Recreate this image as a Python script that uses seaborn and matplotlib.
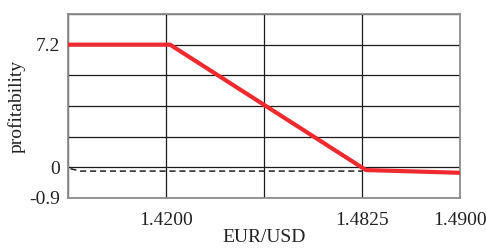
import numpy as np
import pandas as pd
import seaborn as sns
from matplotlib import pyplot as plt

# data
eurusd = [1.3800, 1.4213, 1.4828, 1.4900]
profit = [7.2, 7.2, -0.08, -0.16]
base_x = [1.3810, 1.3850, 1.4825]
base_y = [-0.04, -0.11, -0.11]

x_ticks = [1.3800, 1.4200, 1.45125, 1.4825, 1.4900]
x_labels = ['', '1.4200', '', '1.4825', '1.4900']
y_ticks = [-0.9, 0, 1.8, 3.6, 5.4, 7.2, 9.0]
y_labels = ['-0.9', '0', '', '', '', '7.2', '']

# the reference axes are schematic: ticks are evenly spaced, not to scale
x_pos = np.arange(len(x_ticks), dtype=float)
y_pos = np.arange(len(y_ticks), dtype=float)


def fx(v):
    return np.interp(v, x_ticks, x_pos)


def fx_inv(v):
    return np.interp(v, x_pos, x_ticks)


def fy(v):
    return np.interp(v, y_ticks, y_pos)


def fy_inv(v):
    return np.interp(v, y_pos, y_ticks)


sns.set_style('white')
plt.rcParams['font.family'] = ['Liberation Serif', 'DejaVu Serif']
plt.rcParams['font.size'] = 14

fig = plt.figure(figsize=(4.86, 2.5), dpi=100)
ax = fig.add_axes([68 / 486, 52 / 250, 392 / 486, 184 / 250])
ax.set_xscale('function', functions=(fx, fx_inv))
ax.set_yscale('function', functions=(fy, fy_inv))

df = pd.DataFrame({'EUR/USD': eurusd, 'profitability': profit})
bf = pd.DataFrame({'EUR/USD': base_x, 'profitability': base_y})

sns.lineplot(data=bf, x='EUR/USD', y='profitability', ax=ax, color='#222222',
             lw=1.1, linestyle=(0, (4, 2.5)), sort=False, zorder=3)
sns.lineplot(data=df, x='EUR/USD', y='profitability', ax=ax, color='#ee2a2e',
             lw=3.0, sort=False, zorder=4, solid_capstyle='butt')

ax.set_xlim(x_ticks[0], x_ticks[-1])
ax.set_ylim(y_ticks[0], y_ticks[-1])
ax.set_xticks(x_ticks)
ax.set_xticklabels(x_labels)
ax.set_yticks(y_ticks)
ax.set_yticklabels(y_labels)
ax.minorticks_off()

ax.grid(True, color='#1a1a1a', lw=0.9)
for s in ax.spines.values():
    s.set_color('#8c8c8c')
    s.set_linewidth(1.3)

ax.tick_params(axis='x', length=3, width=1.0, color='#8c8c8c', pad=7, labelcolor='#222222')
ax.tick_params(axis='y', length=0, pad=6, labelcolor='#222222')
ax.set_xlabel('EUR/USD', labelpad=0, color='#222222')
ax.set_ylabel('profitability', labelpad=2, color='#222222')

fig.savefig('out.png', dpi=100)
